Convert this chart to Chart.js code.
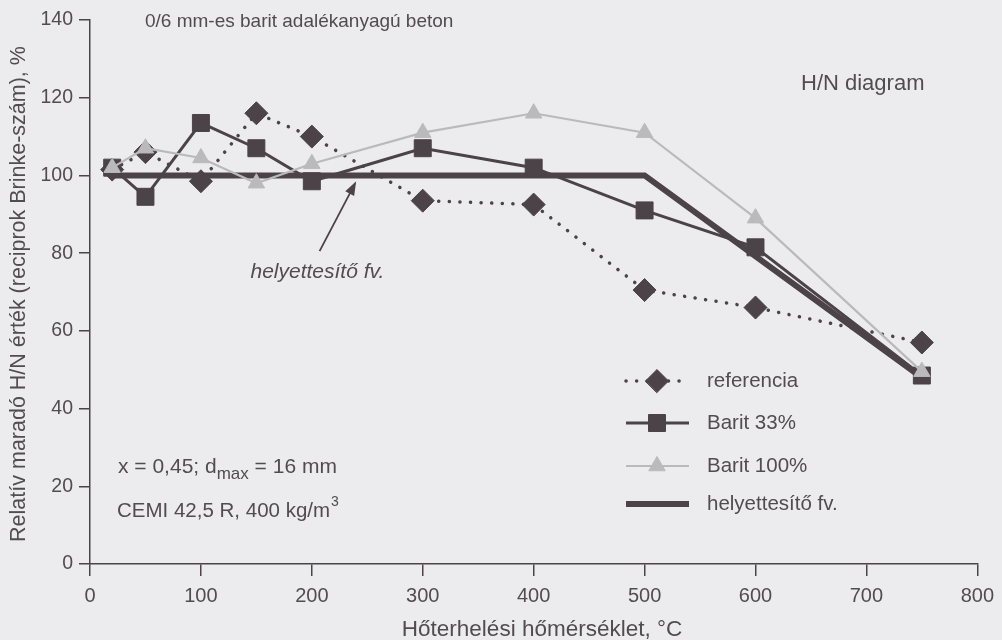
<!DOCTYPE html>
<html lang="hu">
<head>
<meta charset="utf-8">
<title>H/N diagram</title>
<script src="https://cdn.jsdelivr.net/npm/chart.js@4/dist/chart.umd.min.js"></script>
<style>
  html, body { margin: 0; padding: 0; background: #ececee; }
  #wrap { width: 1002px; height: 640px; position: relative; }
</style>
</head>
<body>
<div id="wrap"><canvas id="c" width="1002" height="640"></canvas></div>
<script>
// Hőterhelési hőmérséklet (°C) és relatív maradó H/N érték (%)
const temps = [20, 50, 100, 150, 200, 300, 400, 500, 600, 750];
const referencia = [101.5, 106, 98.5, 116, 110, 93.5, 92.5, 70.5, 66, 57];
const barit33 = [102, 94.5, 113.5, 107, 98.5, 107, 102, 91, 81.5, 48.5];
const barit100 = [102, 107, 104.5, 98, 103, 111, 116, 111, 89, 49.5];
const fitTemps = [20, 500, 750];
const fitValues = [100, 100, 48];
const xTicks = [0, 100, 200, 300, 400, 500, 600, 700, 800];
const yTicks = [0, 20, 40, 60, 80, 100, 120, 140];

const DARK = '#4b4347';
const LIGHT = '#bababd';
const TEXT = '#514c52';
const FONT = '"Liberation Sans", Arial, sans-serif';

const pts = (xs, ys) => xs.map((x, i) => ({ x, y: ys[i] }));

const datasets = [
  {
    label: 'referencia',
    data: pts(temps, referencia),
    borderColor: DARK,
    borderWidth: 3.5,
    borderDash: [0.1, 10.5],
    borderCapStyle: 'round',
    pointStyle: 'rectRot',
    pointRadius: 11.5,
    pointBackgroundColor: DARK,
    pointBorderColor: DARK,
    pointBorderWidth: 1,
    order: 2
  },
  {
    label: 'Barit 33%',
    data: pts(temps, barit33),
    borderColor: DARK,
    borderWidth: 3,
    pointStyle: 'rect',
    pointRadius: 12,
    pointBackgroundColor: DARK,
    pointBorderColor: DARK,
    pointBorderWidth: 1,
    order: 3
  },
  {
    label: 'Barit 100%',
    data: pts(temps, barit100),
    borderColor: LIGHT,
    borderWidth: 2.2,
    pointStyle: 'triangle',
    pointRadius: 9.5,
    pointBackgroundColor: LIGHT,
    pointBorderColor: LIGHT,
    pointBorderWidth: 1,
    order: 1
  },
  {
    label: 'helyettesítő fv.',
    data: pts(fitTemps, fitValues),
    borderColor: DARK,
    borderWidth: 6,
    borderJoinStyle: 'miter',
    pointRadius: 0,
    order: 4
  }
];

// Háttér, feliratok, jelmagyarázat és nyíl
const decorations = {
  id: 'decorations',
  beforeDraw(chart) {
    const { ctx } = chart;
    ctx.save();
    ctx.fillStyle = '#ececee';
    ctx.fillRect(0, 0, chart.width, chart.height);
    ctx.restore();
  },
  afterDraw(chart) {
    const { ctx, scales: { x, y } } = chart;
    ctx.save();
    ctx.fillStyle = TEXT;
    ctx.textBaseline = 'middle';

    // cím a bal felső sarokban
    ctx.font = '19px ' + FONT;
    ctx.textAlign = 'left';
    ctx.fillText('0/6 mm-es barit adalékanyagú beton', 145, 22);

    ctx.font = '22px ' + FONT;
    ctx.fillText('H/N diagram', 801, 84);

    // összetétel adatai
    ctx.font = '21px ' + FONT;
    let tx = 118, ty = 467;
    const p1 = 'x = 0,45; d';
    ctx.fillText(p1, tx, ty);
    tx += ctx.measureText(p1).width;
    ctx.font = '17px ' + FONT;
    ctx.fillText('max', tx, ty + 7);
    tx += ctx.measureText('max').width;
    ctx.font = '21px ' + FONT;
    ctx.fillText(' = 16 mm', tx, ty);

    tx = 117; ty = 511;
    const p2 = 'CEMI 42,5 R, 400 kg/m';
    ctx.font = '20.5px ' + FONT;
    ctx.fillText(p2, tx, ty);
    tx += ctx.measureText(p2).width;
    ctx.font = '14px ' + FONT;
    ctx.fillText('3', tx + 1, ty - 9);

    // tengelyfeliratok
    ctx.font = '22.5px ' + FONT;
    ctx.textAlign = 'center';
    ctx.fillText('Hőterhelési hőmérséklet, °C', 542, 630);
    ctx.save();
    ctx.translate(19, 294);
    ctx.rotate(-Math.PI / 2);
    ctx.font = '21.5px ' + FONT;
    ctx.fillText('Relatív maradó H/N érték (reciprok Brinke-szám), %', 0, 0);
    ctx.restore();

    // helyettesítő függvény jelölése nyíllal
    ctx.font = 'italic 21px ' + FONT;
    ctx.fillText('helyettesítő fv.', x.getPixelForValue(205), y.getPixelForValue(75));
    const ax0 = x.getPixelForValue(207), ay0 = y.getPixelForValue(80.5);
    const ax1 = x.getPixelForValue(240), ay1 = y.getPixelForValue(98.5);
    const ang = Math.atan2(ay1 - ay0, ax1 - ax0);
    ctx.strokeStyle = DARK;
    ctx.lineWidth = 1.8;
    ctx.beginPath();
    ctx.moveTo(ax0, ay0);
    ctx.lineTo(ax1 - 8 * Math.cos(ang), ay1 - 8 * Math.sin(ang));
    ctx.stroke();
    ctx.fillStyle = DARK;
    ctx.beginPath();
    ctx.moveTo(ax1, ay1);
    ctx.lineTo(ax1 - 14 * Math.cos(ang) + 5 * Math.sin(ang), ay1 - 14 * Math.sin(ang) - 5 * Math.cos(ang));
    ctx.lineTo(ax1 - 14 * Math.cos(ang) - 5 * Math.sin(ang), ay1 - 14 * Math.sin(ang) + 5 * Math.cos(ang));
    ctx.closePath();
    ctx.fill();

    // jelmagyarázat
    const lx0 = 626, lx1 = 689, lmid = 657, textX = 707;
    const rows = [381, 423, 466, 504];
    chart.data.datasets.forEach((ds, i) => {
      const ry = rows[i];
      ctx.save();
      ctx.strokeStyle = ds.borderColor;
      ctx.lineWidth = ds.borderWidth;
      ctx.lineCap = ds.borderCapStyle || 'butt';
      ctx.setLineDash(ds.borderDash || []);
      ctx.beginPath();
      ctx.moveTo(lx0, ry);
      ctx.lineTo(lx1, ry);
      ctx.stroke();
      ctx.setLineDash([]);
      if (ds.pointRadius > 0) {
        ctx.fillStyle = ds.pointBackgroundColor;
        ctx.strokeStyle = ds.pointBorderColor;
        ctx.lineWidth = 1;
        Chart.helpers.drawPoint(ctx, { pointStyle: ds.pointStyle, radius: ds.pointRadius, rotation: 0, borderWidth: 1 }, lmid, ry);
      }
      ctx.restore();
      ctx.fillStyle = TEXT;
      ctx.font = '20.5px ' + FONT;
      ctx.textAlign = 'left';
      ctx.fillText(ds.label, textX, ry);
    });
    ctx.restore();
  }
};

new Chart(document.getElementById('c'), {
  type: 'line',
  data: { datasets },
  plugins: [decorations],
  options: {
    responsive: false,
    animation: false,
    layout: { padding: { top: 20, right: 22, left: 0, bottom: 0 } },
    plugins: { legend: { display: false }, tooltip: { enabled: false } },
    elements: { line: { tension: 0, fill: false } },
    scales: {
      x: {
        type: 'linear',
        min: 0, max: 800,
        afterFit(s) { s.height = 76; },
        afterBuildTicks(s) { s.ticks = xTicks.map(v => ({ value: v })); },
        grid: { drawOnChartArea: false, drawTicks: true, tickLength: 12, color: DARK, lineWidth: 1.5 },
        border: { display: true, color: DARK, width: 1.5 },
        ticks: { color: TEXT, padding: 8, font: { family: FONT, size: 20 } }
      },
      y: {
        type: 'linear',
        min: 0, max: 140,
        afterFit(s) { s.width = 90; },
        afterBuildTicks(s) { s.ticks = yTicks.map(v => ({ value: v })); },
        grid: { drawOnChartArea: false, drawTicks: true, tickLength: 11, color: DARK, lineWidth: 1.5 },
        border: { display: true, color: DARK, width: 1.5 },
        ticks: { color: TEXT, padding: 6, font: { family: FONT, size: 19.5 } }
      }
    }
  }
});
</script>
</body>
</html>
